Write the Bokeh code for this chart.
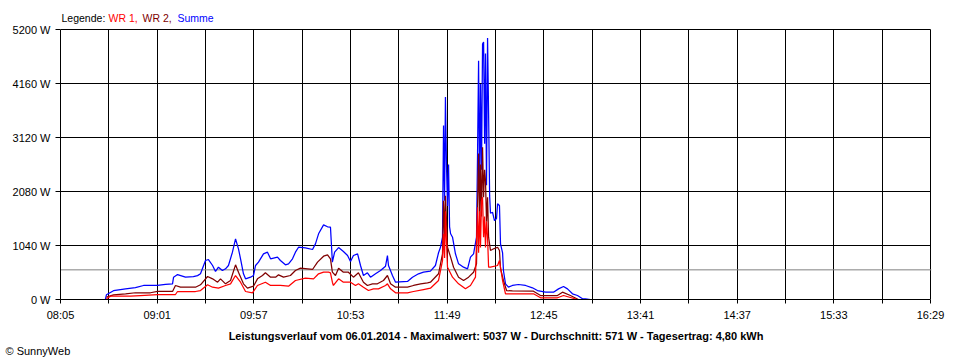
from bokeh.plotting import figure
from bokeh.models import Range1d, FixedTicker, Span, Label, Title, Grid
from bokeh.embed import file_html
from bokeh.resources import INLINE

# ---- data (minutes after 08:05, watts) ----
t_sum = [14.5, 26.0, 26.6, 30.7, 37.7, 43.4, 48.1, 56.2, 60.8, 64.9, 65.5, 67.8, 72.4, 77.0, 79.4, 81.1,
         84.0, 85.7, 88.1, 89.8, 91.5, 93.8, 95.6, 97.3, 99.6, 101.4, 103.1, 104.3, 106.0, 107.2, 110.1,
         111.8, 113.0, 114.7, 117.6, 119.9, 121.7, 125.7, 127.4, 130.3, 132.1, 134.4, 136.1, 137.9, 141.9,
         146.0, 147.7, 149.5, 152.4, 154.7, 156.4, 157.5, 158.8, 161.1, 163.9, 166.3, 168.0, 169.7, 172.1,
         173.8, 175.5, 177.8, 179.6, 182.5, 185.4, 188.3, 189.4, 190.0, 192.3, 194.1, 201.0, 203.9, 207.4,
         210.3, 214.3, 217.2, 219.0, 220.1, 221.3, 221.9, 222.5, 223.0, 223.6, 224.2, 224.8, 225.4, 226.0,
         227.1, 228.8, 230.6, 233.5, 235.8, 237.5, 239.3, 241.0, 241.6, 242.2, 242.8, 243.3, 243.9, 244.5,
         245.1, 245.7, 246.2, 246.8, 247.4, 248.0, 248.6, 249.1, 250.3, 251.4, 252.6, 253.2, 254.3, 254.9,
         256.1, 256.6, 257.8, 259.5, 261.8, 265.3, 269.4, 273.4, 276.3, 281.0, 285.6, 288.5, 291.4, 293.7,
         296.6, 299.5, 302.4, 304.1, 307.0]
w_sum = [0, 0, 90, 170, 205, 230, 270, 270, 290, 300, 430, 480, 430, 440, 460, 495,
         751, 770, 655, 540, 622, 558, 591, 655, 911, 1169, 976, 783, 495, 398, 430,
         462, 655, 719, 880, 911, 783, 815, 751, 668, 687, 783, 911, 1007, 996,
         963, 1072, 1265, 1438, 1400, 1393, 720, 911, 1000, 924, 847, 732, 847, 880,
         655, 462, 514, 430, 495, 558, 642, 847, 655, 462, 333, 347, 430, 495,
         526, 545, 655, 900, 1000, 1200, 3350, 1900, 3900, 2600, 1800, 2600, 1400, 1265,
         1200, 880, 687, 622, 591, 815, 880, 1200, 2800, 4600, 2000, 4150, 2500, 4920,
         4960, 3000, 4740, 2200, 5037, 3580, 2000, 1660, 1680, 1520, 1560, 1843, 1810, 1072,
         900, 558, 302, 237, 270, 289, 270, 225, 173, 141, 141, 205, 250, 205,
         110, 77, 13, 10, 0]

t_wr2 = [26.6, 30.7, 37.7, 43.4, 52.1, 56.2, 64.9, 66.6, 69.5, 78.2, 81.1, 85.2, 88.1, 91.0, 92.7, 95.6,
         98.5, 101.4, 103.1, 106.0, 108.3, 111.8, 114.1, 117.0, 118.7, 121.7, 124.6, 126.3, 129.2, 133.2,
         136.1, 139.0, 146.0, 148.9, 152.4, 154.7, 156.4, 157.5, 159.3, 161.1, 163.9, 166.8, 169.7, 172.6,
         175.5, 177.8, 180.7, 183.6, 187.1, 189.4, 191.2, 194.1, 201.0, 204.5, 208.6, 212.6, 214.3, 219.0,
         221.3, 221.9, 222.5, 223.0, 223.6, 224.2, 226.0, 227.7, 230.6, 233.5, 236.4, 239.3, 241.0, 241.6,
         242.2, 242.8, 243.3, 243.9, 244.5, 245.1, 245.7, 246.2, 246.8, 247.4, 248.0, 249.1, 250.9, 253.2,
         254.3, 254.9, 256.6, 258.4, 261.8, 274.0, 278.1, 287.9, 290.8, 295.4, 300.0]
w_wr2 = [45, 90, 110, 130, 130, 155, 155, 270, 237, 237, 283, 443, 398, 333, 398, 302,
         366, 668, 526, 302, 218, 256, 398, 462, 514, 430, 430, 475, 430, 462,
         558, 603, 578, 719, 834, 860, 783, 526, 462, 603, 526, 526, 430, 514,
         333, 270, 302, 302, 366, 462, 302, 237, 237, 270, 302, 321, 333, 495,
         880, 1900, 1200, 2000, 1521, 1007, 815, 622, 430, 366, 430, 526, 687, 1800,
         2812, 1500, 2600, 1600, 2933, 1971, 2500, 2292, 1500, 1971, 1200, 944, 976, 1007,
         944, 600, 366, 173, 165, 160, 77, 77, 141, 77, 0]

t_wr1 = [26.6, 29.0, 40.6, 46.3, 56.2, 66.6, 67.8, 78.2, 81.1, 85.2, 88.1, 91.5, 95.6, 98.5, 101.4, 104.3,
         107.2, 111.2, 114.1, 118.7, 121.7, 127.4, 132.1, 136.1, 141.9, 146.6, 149.5, 152.4, 155.3, 156.4,
         157.5, 158.1, 161.1, 163.9, 168.0, 170.9, 172.6, 175.5, 178.4, 181.3, 184.2, 188.3, 189.4, 191.2,
         194.1, 201.0, 204.5, 210.3, 214.3, 219.0, 221.3, 221.9, 222.5, 223.0, 223.6, 224.2, 227.1, 230.6,
         234.6, 237.5, 240.4, 241.6, 242.2, 242.8, 243.3, 243.9, 244.5, 245.1, 245.7, 246.2, 246.8, 247.4,
         248.0, 249.1, 253.2, 254.3, 256.1, 257.8, 274.0, 278.1, 287.9, 291.4, 299.5]
w_wr1 = [13, 64, 64, 77, 96, 96, 154, 154, 173, 283, 237, 218, 270, 302, 462, 333,
         154, 128, 270, 333, 270, 270, 256, 366, 411, 398, 495, 526, 526, 514,
         333, 270, 398, 333, 333, 270, 302, 237, 173, 205, 205, 270, 302, 205,
         128, 128, 154, 192, 218, 366, 751, 1265, 800, 1700, 1100, 622, 430, 302,
         205, 270, 430, 1778, 900, 1700, 1000, 1900, 1971, 1200, 1600, 1000, 1500, 1200,
         622, 622, 655, 751, 366, 110, 110, 33, 33, 77, 0]

start_label = "08:05"
x_tick_labels = ["08:05", "09:01", "09:57", "10:53", "11:49", "12:45", "13:41", "14:37", "15:33", "16:29"]
y_ticks = [0, 1040, 2080, 3120, 4160, 5200]
average_w = 571
title_text = ("Leistungsverlauf vom 06.01.2014 - Maximalwert: 5037 W - Durchschnitt: 571 W"
              " - Tagesertrag: 4,80 kWh")

FONT = "Liberation Sans"

# ---- layout geometry (pixels) ----
W, H = 960, 360
LEFT, RIGHT, TOP, BOTTOM = 60, 29, 5, 61          # frame borders
PLOT_TOP_PX = 29                                   # pixel row of the top gridline


def to_min(s):
    h, m = s.split(":")
    return int(h) * 60 + int(m)


t0 = to_min(start_label)
xs_sum = [t0 + t for t in t_sum]
xs_wr1 = [t0 + t for t in t_wr1]
xs_wr2 = [t0 + t for t in t_wr2]

x_start = to_min(x_tick_labels[0])
x_end = to_min(x_tick_labels[-1])
x_ticks = list(range(x_start, x_end + 1, 28))
x_overrides = {tk: "" for tk in x_ticks}
for lab in x_tick_labels:
    x_overrides[to_min(lab)] = lab

frame_w = W - LEFT - RIGHT
frame_h = H - TOP - BOTTOM
# small extension of x range so the last gridline is not clipped at the frame edge
x_hi = x_start + (x_end - x_start) * frame_w / (frame_w - 1)
# frame extends above the top gridline to hold the legend text
y_lo, y_top = y_ticks[0], y_ticks[-1]
y_hi = y_top * frame_h / (frame_h - (PLOT_TOP_PX - TOP))

p = figure(width=W, height=H, output_backend="svg", toolbar_location=None,
           title_location=None,
           x_range=Range1d(x_start, x_hi), y_range=Range1d(y_lo, y_hi),
           min_border_left=LEFT, min_border_right=RIGHT, min_border_top=TOP, min_border_bottom=BOTTOM)
p.background_fill_color = "white"
p.border_fill_color = "white"
p.outline_line_color = None

xt = FixedTicker(ticks=x_ticks)
yt = FixedTicker(ticks=y_ticks)
p.xaxis.ticker = xt
p.yaxis.ticker = yt
p.xgrid.ticker = xt
p.ygrid.ticker = yt
p.yaxis.bounds = (y_lo, y_top)
p.xaxis.bounds = (x_start, x_end)
for g in (p.xgrid, p.ygrid):
    g.grid_line_color = "black"
    g.grid_line_alpha = 1.0
    g.grid_line_width = 1
if "cross_bounds" in Grid.properties():
    p.xgrid.cross_bounds = (y_lo, y_top)
    p.ygrid.cross_bounds = (x_start, x_end)

p.xaxis.major_label_overrides = x_overrides
p.yaxis.major_label_overrides = {v: f"{v} W" for v in y_ticks}

for ax in (p.xaxis, p.yaxis):
    ax.axis_line_color = "black"
    ax.major_tick_line_color = "black"
    ax.minor_tick_line_color = None
    ax.major_tick_in = 0
    ax.major_label_text_font = FONT
    ax.major_label_text_font_size = "11px"
    ax.major_label_text_color = "black"
p.xaxis.major_tick_out = 4
p.xaxis.major_label_standoff = 5
p.yaxis.major_tick_out = 5
p.yaxis.major_label_standoff = 5

avg = Span(location=average_w, dimension="width", line_color="#808080", line_width=1, level="underlay")
p.add_layout(avg)

p.line(xs_sum, w_sum, line_color="#0000FF", line_width=1.25)
p.line(xs_wr2, w_wr2, line_color="#800000", line_width=1.25)
p.line(xs_wr1, w_wr1, line_color="#FF0000", line_width=1.25)

# legend text inside the (extended) frame, above the top gridline
legend_parts = [("Legende:", "black", 1), ("WR 1,", "#FF0000", 48), ("WR 2,", "#800000", 82),
                ("Summe", "#0000FF", 117)]
legend_baseline_px = 17
for txt, col, xo in legend_parts:
    p.add_layout(Label(x=xo, y=(H - BOTTOM) - legend_baseline_px, x_units="screen", y_units="screen",
                       text=txt, text_color=col, text_font=FONT, text_font_size="10.5px",
                       text_baseline="alphabetic", text_align="left"))

p.add_layout(Title(text=title_text, align="center", offset=-15, standoff=9,
                   text_font=FONT, text_font_size="11px", text_font_style="bold",
                   text_color="black"), "below")
p.add_layout(Title(text="\u00a9 SunnyWeb", align="left", offset=-55, standoff=-8,
                   text_font=FONT, text_font_size="11px", text_font_style="normal",
                   text_color="black"), "below")

open("out.html", "w").write(file_html(p, INLINE))
